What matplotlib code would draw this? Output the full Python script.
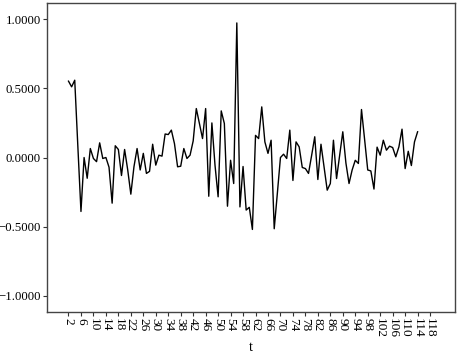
import matplotlib.pyplot as plt
from matplotlib.ticker import FuncFormatter

plt.rcParams['font.family'] = ['Liberation Serif', 'DejaVu Serif']

# 时间 t 和对应的数值
t_data = list(range(2, 115))
y_data = [0.552, 0.511, 0.559, 0.08, -0.39, 0.0, -0.15, 0.065, -0.007, -0.03,
          0.106, -0.007, 0.0, -0.07, -0.33, 0.085, 0.058, -0.13, 0.058, -0.09,
          -0.265, -0.067, 0.065, -0.09, 0.03, -0.115, -0.10, 0.096, -0.055, 0.017,
          0.01, 0.17, 0.166, 0.198, 0.10, -0.067, -0.063, 0.065, -0.007, 0.017,
          0.12, 0.354, 0.246, 0.137, 0.354, -0.28, 0.25, -0.055, -0.284, 0.337,
          0.246, -0.352, -0.02, -0.188, 0.973, -0.357, -0.065, -0.38, -0.36, -0.52,
          0.16, 0.137, 0.366, 0.113, 0.03, 0.125, -0.515, -0.26, 0.0, 0.024,
          -0.007, 0.198, -0.166, 0.113, 0.077, -0.072, -0.08, -0.115, 0.015, 0.15,
          -0.159, 0.096, -0.07, -0.236, -0.188, 0.125, -0.152, 0.017, 0.186, -0.04,
          -0.188, -0.09, -0.02, -0.043, 0.347, 0.13, -0.09, -0.097, -0.228, 0.075,
          0.017, 0.125, 0.053, 0.082, 0.072, 0.005, 0.077, 0.205, -0.08, 0.045,
          -0.058, 0.113, 0.186]

x_ticks = list(range(2, 119, 4))
y_ticks = [-1.0, -0.5, 0.0, 0.5, 1.0]

fig = plt.figure(figsize=(4.59, 3.55), dpi=100)
ax = fig.add_axes([0.1017, 0.1211, 0.8896, 0.8704])

ax.plot(t_data, y_data, color='black', linewidth=1.0)

ax.set_xlim(-5, 126)
ax.set_ylim(-1.117, 1.117)
ax.set_xticks(x_ticks)
ax.set_xticklabels([str(v) for v in x_ticks], rotation=270, fontsize=9.5)
ax.set_yticks(y_ticks)
ax.yaxis.set_major_formatter(FuncFormatter(lambda v, p: ('%.4f' % v).replace('-', '\u2212')))
ax.tick_params(axis='y', labelsize=9.2, pad=1)
ax.tick_params(axis='x', pad=1.5)
ax.tick_params(direction='out', length=3, width=0.8, color='#333333')
ax.set_xlabel('t', fontsize=10.5, labelpad=2)

for s in ax.spines.values():
    s.set_color('#444444')
    s.set_linewidth(1.0)

fig.savefig('out.png', dpi=100)
